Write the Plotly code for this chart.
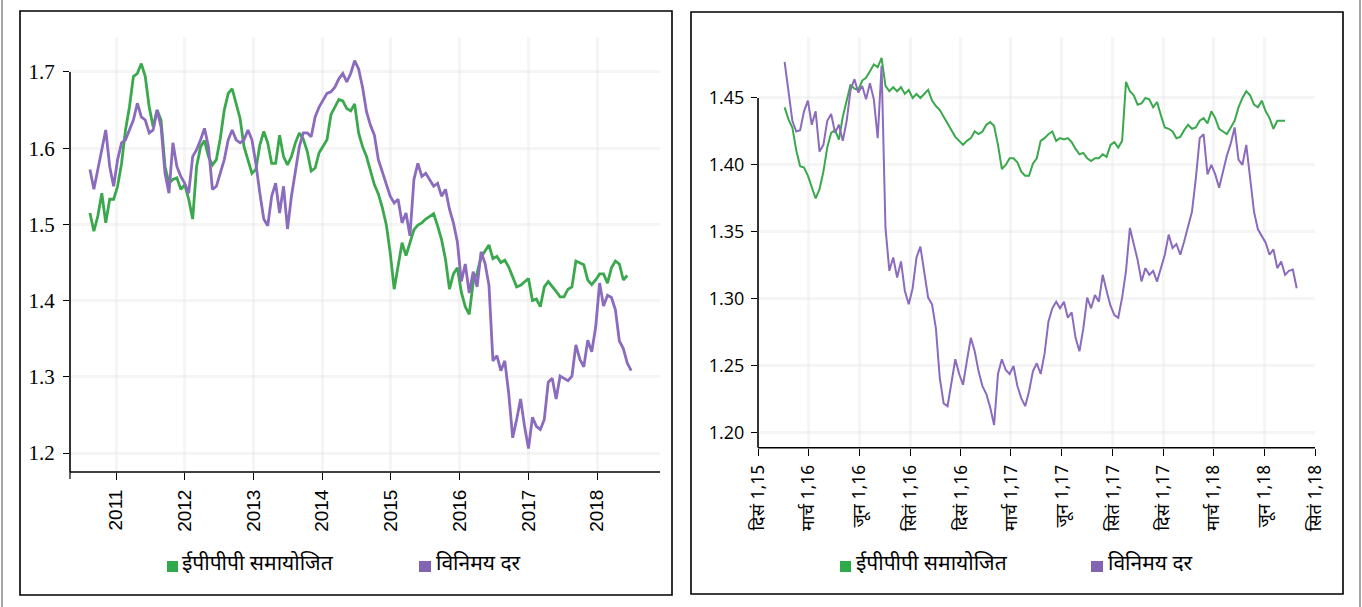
import pandas as pd
import plotly.graph_objects as go

# ---------------- data ----------------
# Long-run panel: 3-weekly observations starting mid-August 2010
left_start = "2010-08-15"
left_fx = [
    1.572, 1.546, 1.572, 1.598, 1.624, 1.576, 1.550, 1.585, 1.607, 1.611,
    1.624, 1.637, 1.659, 1.641, 1.637, 1.620, 1.624, 1.650, 1.628, 1.567,
    1.541, 1.607, 1.576, 1.563, 1.554, 1.541, 1.589, 1.598, 1.611, 1.626,
    1.602, 1.546, 1.550, 1.567, 1.585, 1.611, 1.624, 1.611, 1.607, 1.611,
    1.624, 1.611, 1.580, 1.541, 1.507, 1.498, 1.537, 1.554, 1.515, 1.550,
    1.494, 1.537, 1.572, 1.602, 1.620, 1.620, 1.615, 1.641, 1.654, 1.663,
    1.672, 1.674, 1.680, 1.691, 1.698, 1.687, 1.698, 1.715, 1.704, 1.680,
    1.648, 1.630, 1.617, 1.585, 1.570, 1.554, 1.537, 1.528, 1.533, 1.502,
    1.515, 1.485, 1.559, 1.580, 1.563, 1.567, 1.559, 1.550, 1.554, 1.537,
    1.546, 1.520, 1.502,
    1.477, 1.425, 1.448, 1.410, 1.438, 1.418, 1.464, 1.449, 1.420, 1.321,
    1.328, 1.308, 1.321, 1.278, 1.220, 1.244, 1.271, 1.235, 1.206, 1.247,
    1.235, 1.231, 1.244, 1.293, 1.298, 1.271, 1.301, 1.298, 1.295, 1.301,
    1.342, 1.323, 1.313, 1.348, 1.333, 1.365, 1.423, 1.393, 1.407, 1.404,
    1.388, 1.347, 1.337, 1.318, 1.308,
]
left_ppp = [
    1.515, 1.491, 1.511, 1.541, 1.502, 1.533, 1.533, 1.550, 1.580, 1.624,
    1.654, 1.694, 1.698, 1.711, 1.694, 1.654, 1.628, 1.650, 1.637, 1.576,
    1.554, 1.559, 1.561, 1.546, 1.552, 1.533, 1.507, 1.576, 1.602, 1.610,
    1.589, 1.578, 1.585, 1.613, 1.650, 1.672, 1.678, 1.657, 1.639, 1.602,
    1.583, 1.567, 1.572, 1.604, 1.622, 1.607, 1.580, 1.580, 1.617, 1.589,
    1.578, 1.589, 1.607, 1.620, 1.612, 1.596, 1.570, 1.574, 1.594, 1.603,
    1.611, 1.644, 1.654, 1.664, 1.662, 1.652, 1.649, 1.658, 1.620, 1.602,
    1.589, 1.569, 1.552, 1.540, 1.522, 1.500, 1.463, 1.415, 1.446, 1.476,
    1.459, 1.476, 1.493, 1.499, 1.502, 1.507, 1.511, 1.514, 1.498, 1.480,
    1.454, 1.415, 1.435,
    1.443, 1.411, 1.392, 1.382, 1.424, 1.436, 1.457, 1.465, 1.473, 1.455,
    1.458, 1.450, 1.453, 1.444, 1.431, 1.418, 1.420, 1.425, 1.429, 1.400,
    1.402, 1.392, 1.418, 1.425, 1.419, 1.412, 1.405, 1.405, 1.415, 1.418,
    1.452, 1.450, 1.447, 1.427, 1.421, 1.427, 1.435, 1.435, 1.423, 1.443,
    1.452, 1.448, 1.427, 1.433,
]
left_years = [2011, 2012, 2013, 2014, 2015, 2016, 2017, 2018]

# Recent panel: weekly observations starting mid-January 2016
right_start = "2016-01-18"
right_fx = [
    1.477, 1.455, 1.433, 1.425, 1.426, 1.440, 1.448, 1.430, 1.440, 1.410,
    1.415, 1.433, 1.438, 1.424, 1.430, 1.418, 1.433, 1.456, 1.464, 1.454,
    1.459, 1.449, 1.461, 1.449, 1.420, 1.474, 1.353, 1.321, 1.331, 1.316,
    1.328, 1.306, 1.296, 1.308, 1.331, 1.339, 1.321, 1.301, 1.296, 1.278,
    1.241, 1.222, 1.220, 1.236, 1.255, 1.244, 1.236, 1.254, 1.271, 1.261,
    1.246, 1.235, 1.229, 1.219, 1.206, 1.244, 1.255, 1.247, 1.244, 1.250,
    1.235, 1.226, 1.220, 1.231, 1.246, 1.252, 1.244, 1.259, 1.283, 1.293,
    1.298, 1.293, 1.298, 1.286, 1.290, 1.271, 1.261, 1.278, 1.301, 1.293,
    1.303, 1.298, 1.318, 1.306, 1.295, 1.288, 1.286, 1.301, 1.321, 1.353,
    1.342, 1.329, 1.313, 1.323, 1.318, 1.321, 1.313, 1.323, 1.333, 1.348,
    1.338, 1.341, 1.333, 1.343, 1.353, 1.365, 1.390, 1.420, 1.423, 1.393,
    1.400, 1.393, 1.383, 1.395, 1.407, 1.416, 1.428, 1.404, 1.400, 1.415,
    1.388, 1.365, 1.352, 1.347, 1.342, 1.333, 1.337, 1.323, 1.328, 1.318,
    1.321, 1.322, 1.308,
]
right_ppp = [
    1.443, 1.434, 1.428, 1.411, 1.399, 1.398, 1.392, 1.384, 1.375, 1.382,
    1.395, 1.413, 1.424, 1.426, 1.419, 1.436, 1.449, 1.460, 1.457, 1.456,
    1.463, 1.465, 1.470, 1.475, 1.473, 1.480, 1.459, 1.455, 1.458, 1.455,
    1.458, 1.453, 1.456, 1.450, 1.453, 1.450, 1.453, 1.456, 1.448, 1.444,
    1.441, 1.436, 1.431, 1.426, 1.421, 1.418, 1.415, 1.418, 1.420, 1.425,
    1.423, 1.425, 1.430, 1.432, 1.429, 1.415, 1.397, 1.400, 1.405, 1.405,
    1.402, 1.395, 1.392, 1.392, 1.401, 1.405, 1.418, 1.420, 1.423, 1.425,
    1.418, 1.420, 1.419, 1.420, 1.417, 1.412, 1.408, 1.409, 1.405, 1.403,
    1.405, 1.405, 1.408, 1.406, 1.415, 1.417, 1.413, 1.418, 1.462, 1.455,
    1.452, 1.445, 1.446, 1.450, 1.449, 1.443, 1.447, 1.437, 1.428, 1.427,
    1.425, 1.420, 1.421, 1.426, 1.430, 1.427, 1.428, 1.433, 1.435, 1.431,
    1.440, 1.435, 1.427, 1.425, 1.423, 1.428, 1.433, 1.443, 1.450, 1.455,
    1.452, 1.445, 1.443, 1.448, 1.440, 1.435, 1.427, 1.433, 1.433, 1.433,
]
right_tick_labels = [
    "दिसं 1,15", "मार्च 1,16", "जून 1,16", "सितं 1,16",
    "दिसं 1,16", "मार्च 1,17", "जून 1,17", "सितं 1,17",
    "दिसं 1,17", "मार्च 1,18", "जून 1,18", "सितं 1,18",
]
series_names = ["ईपीपीपी समायोजित", "विनिमय दर"]

# ---------------- styling ----------------
W, H = 1362, 607
GREEN = "#3aa84c"
PURPLE = "#8a6bbd"
GREEN_KEY = "#2eaa4a"
PURPLE_KEY = "#8264b2"
GRID = "rgba(232,232,232,0.45)"
HINDI = "Noto Sans Devanagari, Lohit Devanagari, FreeSans, Mukta, sans-serif"


def px_x(p):
    return p / W


def px_y(p):
    return 1 - p / H


left_dates = pd.date_range(left_start, periods=len(left_fx), freq="21D")
left_dates_ppp = pd.date_range(left_start, periods=len(left_ppp), freq="21D")
right_dates = pd.date_range(right_start, periods=len(right_fx), freq="7D")
right_dates_ppp = pd.date_range(right_start, periods=len(right_ppp), freq="7D")

fig = go.Figure()
fig.add_trace(go.Scatter(x=left_dates_ppp, y=left_ppp, mode="lines",
                         line=dict(color=GREEN, width=2.8), xaxis="x", yaxis="y"))
fig.add_trace(go.Scatter(x=left_dates, y=left_fx, mode="lines",
                         line=dict(color=PURPLE, width=2.8), xaxis="x", yaxis="y"))
fig.add_trace(go.Scatter(x=right_dates_ppp, y=right_ppp, mode="lines",
                         line=dict(color=GREEN, width=2.0), xaxis="x2", yaxis="y2"))
fig.add_trace(go.Scatter(x=right_dates, y=right_fx, mode="lines",
                         line=dict(color=PURPLE, width=2.0), xaxis="x2", yaxis="y2"))

left_ylo, left_yhi = 1.1751, 1.7459
right_ylo, right_yhi = 1.1890, 1.4955

axis_common = dict(showline=False, zeroline=False, ticks="outside", automargin=False,
                   tickcolor="black", tickwidth=1.2, gridcolor=GRID, gridwidth=3,
                   showgrid=True)

fig.update_layout(
    width=W, height=H,
    margin=dict(l=0, r=0, t=0, b=0),
    paper_bgcolor="white", plot_bgcolor="white",
    showlegend=False,
    xaxis=dict(
        domain=[px_x(70), px_x(660)], anchor="y",
        type="date", range=["2010-05-01", "2018-12-01"],
        tickvals=[f"{y}-01-01" for y in left_years],
        ticktext=[str(y) for y in left_years],
        tickangle=-90, ticklen=7, ticklabelstandoff=2,
        tickfont=dict(family="Liberation Sans, Arial, sans-serif", size=19, color="black"),
        **axis_common,
    ),
    yaxis=dict(
        domain=[px_y(472), px_y(37)], anchor="x",
        range=[left_ylo, left_yhi],
        tickvals=[1.2, 1.3, 1.4, 1.5, 1.6, 1.7], tickformat=".1f",
        ticklen=6, ticklabelstandoff=4,
        tickfont=dict(family="Liberation Serif, Times New Roman, serif", size=21, color="black"),
        **axis_common,
    ),
    xaxis2=dict(
        domain=[px_x(758), px_x(1315)], anchor="y2",
        type="date", range=["2015-12-01", "2018-09-01"],
        tickvals=list(pd.date_range("2015-12-01", "2018-09-01", freq="3MS")),
        ticktext=right_tick_labels,
        tickangle=-90, ticklen=7, ticklabelstandoff=2,
        tickfont=dict(family=HINDI, size=18, color="black"),
        **axis_common,
    ),
    yaxis2=dict(
        domain=[px_y(447.7), px_y(37)], anchor="x2",
        range=[right_ylo, right_yhi],
        tickvals=[1.20, 1.25, 1.30, 1.35, 1.40, 1.45], tickformat=".2f",
        ticklen=6, ticklabelstandoff=3,
        tickfont=dict(family="Open Sans, Noto Sans, sans-serif", size=18, color="black"),
        **axis_common,
    ),
)

shapes = []
# outer page rules
for xp in (2, 1360):
    shapes.append(dict(type="line", xref="paper", yref="paper",
                       x0=px_x(xp), x1=px_x(xp), y0=0, y1=1,
                       line=dict(color="#6a6a6a", width=1.2)))
# panel frames
for x0, x1, y0, y1 in ((20, 672, 11, 595), (691, 1343, 12, 594)):
    shapes.append(dict(type="rect", xref="paper", yref="paper",
                       x0=px_x(x0), x1=px_x(x1), y0=px_y(y1), y1=px_y(y0),
                       line=dict(color="black", width=1.6), fillcolor="rgba(0,0,0,0)"))
# axis lines: y axes run from the top tick down, x axes span the domain
shapes.append(dict(type="line", xref="paper", yref="y", x0=px_x(70), x1=px_x(70),
                   y0=left_ylo, y1=1.7, line=dict(color="black", width=1.6)))
shapes.append(dict(type="line", xref="paper", yref="paper", x0=px_x(70), x1=px_x(660),
                   y0=px_y(472), y1=px_y(472), line=dict(color="black", width=1.6)))
shapes.append(dict(type="line", xref="paper", yref="y2", x0=px_x(758), x1=px_x(758),
                   y0=right_ylo, y1=1.45, line=dict(color="black", width=1.6)))
shapes.append(dict(type="line", xref="paper", yref="paper", x0=px_x(758), x1=px_x(1315),
                   y0=px_y(447.7), y1=px_y(447.7), line=dict(color="black", width=1.6)))
# tick at the start of the left time axis
shapes.append(dict(type="line", xref="paper", yref="paper", x0=px_x(70), x1=px_x(70),
                   y0=px_y(472), y1=px_y(479), line=dict(color="black", width=1.2)))

# legend keys
annotations = []
legend_rows = [
    ((167, 178), 180, (419, 431), 434),
    ((840, 851), 854, (1091, 1103), 1106),
]
for (g0, g1), gtx, (p0, p1), ptx in legend_rows:
    shapes.append(dict(type="rect", xref="paper", yref="paper",
                       x0=px_x(g0), x1=px_x(g1), y0=px_y(572), y1=px_y(561),
                       line=dict(width=0), fillcolor=GREEN_KEY))
    shapes.append(dict(type="rect", xref="paper", yref="paper",
                       x0=px_x(p0), x1=px_x(p1), y0=px_y(572), y1=px_y(561),
                       line=dict(width=0), fillcolor=PURPLE_KEY))
    for xt, name in ((gtx, series_names[0]), (ptx, series_names[1])):
        annotations.append(dict(xref="paper", yref="paper", x=px_x(xt), y=px_y(565),
                                xanchor="left", yanchor="middle", showarrow=False,
                                text=name, font=dict(family=HINDI, size=21, color="black")))

fig.update_layout(shapes=shapes, annotations=annotations)
fig.write_html("out.html")
